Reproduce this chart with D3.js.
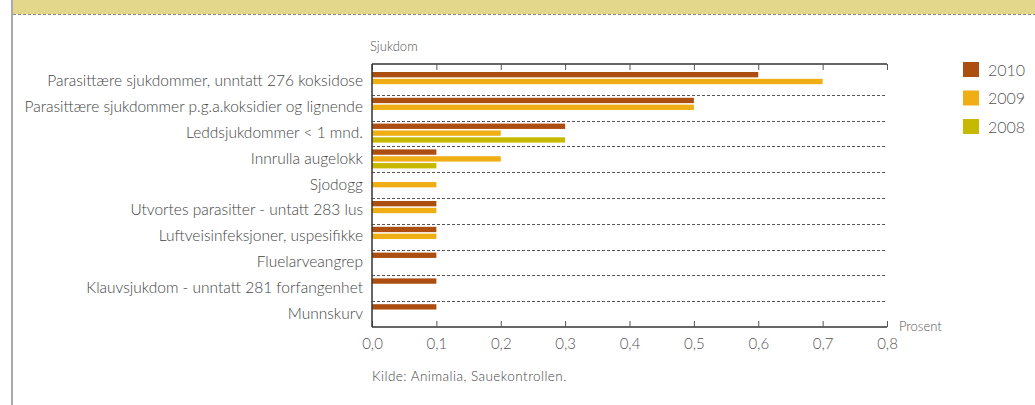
<!DOCTYPE html>
<html>
<head>
<meta charset="utf-8">
<script src="https://cdn.jsdelivr.net/npm/d3@7/dist/d3.min.js"></script>
<style>
  body { margin: 0; background: #fff; }
  svg { display: block; font-family: Lato, "Open Sans", sans-serif; font-weight: 300; }
</style>
</head>
<body>
<svg id="chart" width="1035" height="405"></svg>
<script>
// data
var categories = [
  "Parasittære sjukdommer, unntatt 276 koksidose",
  "Parasittære sjukdommer p.g.a.koksidier og lignende",
  "Leddsjukdommer < 1 mnd.",
  "Innrulla augelokk",
  "Sjodogg",
  "Utvortes parasitter - untatt 283 lus",
  "Luftveisinfeksjoner, uspesifikke",
  "Fluelarveangrep",
  "Klauvsjukdom - unntatt 281 forfangenhet",
  "Munnskurv"
];
var years = ["2010", "2009", "2008"];
var values2010 = [0.6, 0.5, 0.3, 0.1, null, 0.1, 0.1, 0.1, 0.1, 0.1];
var values2009 = [0.7, 0.5, 0.2, 0.2, 0.1, 0.1, 0.1, null, null, null];
var values2008 = [null, null, 0.3, 0.1, null, null, null, null, null, null];
var xTicks = [0, 0.1, 0.2, 0.3, 0.4, 0.5, 0.6, 0.7, 0.8];
var colors = ["#ab4e10", "#efae14", "#c6b900"];

var seriesValues = [values2010, values2009, values2008];

var svg = d3.select("#chart");

// top band + left rule
svg.append("rect").attr("x", 13).attr("y", 0).attr("width", 1022).attr("height", 14)
  .attr("fill", "#e2d78b");
svg.append("line").attr("x1", 13).attr("x2", 1035).attr("y1", 14.5).attr("y2", 14.5)
  .attr("stroke", "#8a8a7a").attr("stroke-width", 1.2).attr("stroke-dasharray", "3,2");
svg.append("line").attr("x1", 12).attr("x2", 12).attr("y1", 0).attr("y2", 405)
  .attr("stroke", "#aaaaaa").attr("stroke-width", 2);

var x = d3.scaleLinear().domain([0, 0.8]).range([372, 887]);
var y = d3.scaleBand().domain(categories).range([69, 327]).paddingInner(0);
var ySub = d3.scaleBand().domain(years).range([3, 22]).paddingInner(0.22);

var plotTop = 64, plotBottom = 327;

// dashed separators between categories
svg.append("g").selectAll("line")
  .data(categories.slice(1))
  .join("line")
  .attr("x1", x(0)).attr("x2", x(0.8))
  .attr("y1", function (d) { return Math.round(y(d)) + 0.5; })
  .attr("y2", function (d) { return Math.round(y(d)) + 0.5; })
  .attr("stroke", "#555").attr("stroke-width", 1).attr("stroke-dasharray", "3,2");

// bars
years.forEach(function (yr, i) {
  var rows = categories.map(function (c, j) { return { cat: c, v: seriesValues[i][j] }; })
    .filter(function (d) { return d.v != null; });
  svg.append("g").selectAll("rect")
    .data(rows)
    .join("rect")
    .attr("x", x(0))
    .attr("y", function (d) { return y(d.cat) + ySub(yr); })
    .attr("width", function (d) { return x(d.v) - x(0); })
    .attr("height", ySub.bandwidth())
    .attr("fill", colors[i]);
});

var fmt = function (d) { return d3.format(".1f")(d).replace(".", ","); };

// axes
var bottomAxis = svg.append("g").attr("transform", "translate(0," + plotBottom + ")")
  .call(d3.axisBottom(x).tickValues(xTicks).tickSize(-6).tickPadding(11).tickFormat(fmt));
var topAxis = svg.append("g").attr("transform", "translate(0," + plotTop + ")")
  .call(d3.axisTop(x).tickValues(xTicks).tickSize(-6).tickFormat(""));
[bottomAxis, topAxis].forEach(function (g) {
  g.select(".domain").attr("stroke", "#333").attr("stroke-width", 1.5)
    .attr("d", "M" + x(0) + ",0H" + x(0.8));
  g.selectAll(".tick line").attr("stroke", "#555");
});
bottomAxis.selectAll(".tick text").attr("font-size", 15).attr("fill", "#555")
  .attr("font-family", "Lato, sans-serif").attr("dy", "0.71em");
svg.append("line").attr("x1", x(0)).attr("x2", x(0)).attr("y1", plotTop).attr("y2", plotBottom)
  .attr("stroke", "#333").attr("stroke-width", 1.5);

// category labels
svg.append("g").selectAll("text")
  .data(categories)
  .join("text")
  .attr("x", 363)
  .attr("y", function (d) { return y(d) + y.bandwidth() / 2 - 1; })
  .attr("dy", "0.35em")
  .attr("text-anchor", "end")
  .attr("font-size", 15.5)
  .attr("fill", "#444")
  .text(function (d) { return d; });

svg.append("text").attr("x", 370).attr("y", 51).attr("font-size", 13).attr("fill", "#555").text("Sjukdom");
svg.append("text").attr("x", 899).attr("y", 331).attr("font-size", 13).attr("fill", "#555").text("Prosent");
svg.append("text").attr("x", 372).attr("y", 381).attr("font-size", 13.5).attr("letter-spacing", 0.45)
  .attr("fill", "#444").text("Kilde: Animalia, Sauekontrollen.");

// legend
var legend = svg.append("g").selectAll("g")
  .data(years)
  .join("g")
  .attr("transform", function (d, i) { return "translate(963," + (62 + i * 28.5) + ")"; });
legend.append("rect").attr("width", 16).attr("height", 15)
  .attr("fill", function (d, i) { return colors[i]; });
legend.append("text").attr("x", 25).attr("y", 8).attr("dy", "0.35em")
  .attr("font-size", 16).attr("fill", "#555").text(function (d) { return d; });
</script>
</body>
</html>
